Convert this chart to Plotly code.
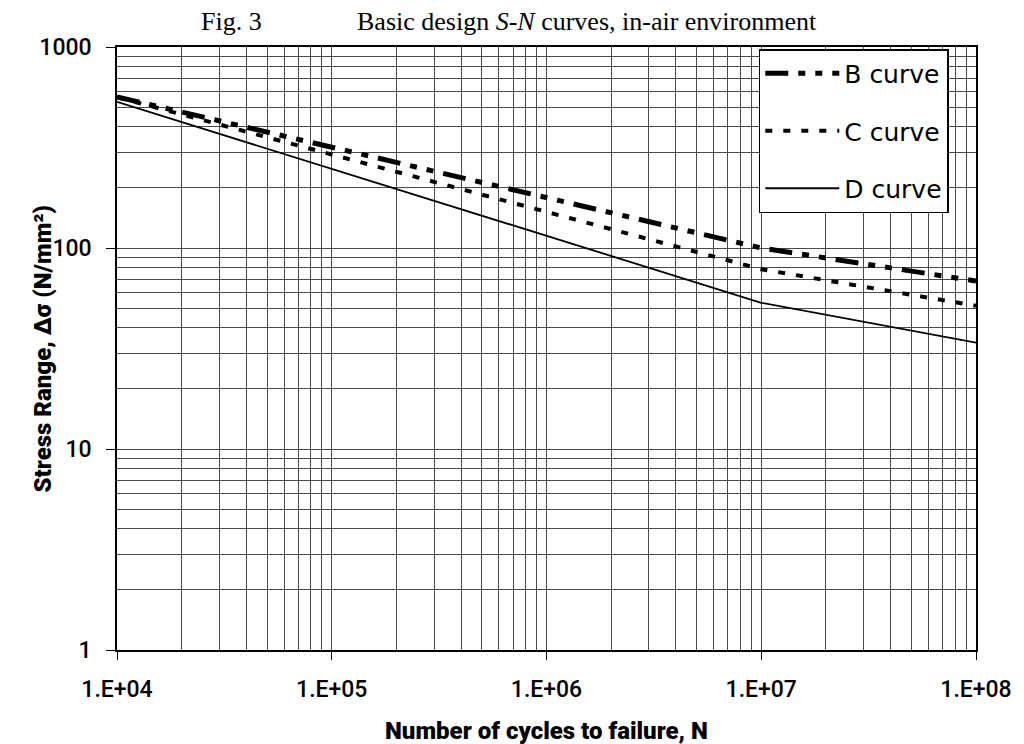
import plotly.graph_objects as go

# Data
cycles = [1e4, 1e7, 1e8]
b_curve = [565, 100, 68.5]
c_curve = [563, 78.4, 51.6]
d_curve = [533, 53.4, 33.8]

x_tickvals = [1e4, 1e5, 1e6, 1e7, 1e8]
x_ticktext = ["1.E+04", "1.E+05", "1.E+06", "1.E+07", "1.E+08"]
y_tickvals = [1, 10, 100, 1000]
y_ticktext = ["1", "10", "100", "1000"]

fig = go.Figure()
fig.add_trace(go.Scatter(x=cycles, y=b_curve, mode="lines", name="B curve", legendgroup="b",
                         line=dict(color="black", width=5, dash="23px,10px,7px,10px,7px,10px")))
fig.add_trace(go.Scatter(x=cycles, y=c_curve, mode="lines", name="C curve", legendgroup="c",
                         line=dict(color="black", width=4, dash="7px,11px")))
fig.add_trace(go.Scatter(x=cycles, y=d_curve, mode="lines", name="D curve", legendgroup="d",
                         line=dict(color="black", width=1.8)))

tick_font = dict(family="Roboto", size=23, color="black", weight=500)
title_font = dict(family="Roboto", size=24, color="black", weight=900)
grid_col = "#4a4a4a"

fig.update_xaxes(type="log", range=[4, 8], tickvals=x_tickvals, ticktext=x_ticktext,
                 showgrid=True, gridcolor=grid_col, gridwidth=1,
                 minor=dict(dtick="D1", showgrid=True, gridcolor=grid_col, gridwidth=1, ticks=""),
                 showline=True, linecolor="black", linewidth=1.5, mirror=True,
                 ticks="outside", ticklen=8, tickcolor="black", tickfont=tick_font,
                 ticklabelstandoff=10,
                 zeroline=False)
fig.update_yaxes(type="log", range=[0, 3], tickvals=y_tickvals, ticktext=y_ticktext,
                 showgrid=True, gridcolor=grid_col, gridwidth=1,
                 minor=dict(dtick="D1", showgrid=True, gridcolor=grid_col, gridwidth=1, ticks=""),
                 showline=True, linecolor="black", linewidth=1.5, mirror=True,
                 ticks="outside", ticklen=9, tickcolor="black", tickfont=tick_font,
                 ticklabelstandoff=10,
                 zeroline=False)

fig.update_layout(
    width=1024, height=744,
    margin=dict(l=117, r=37, t=47, b=94),
    paper_bgcolor="white", plot_bgcolor="white",
    legend=dict(x=(767 - 117) / 870, y=1 - 2 / 603, xanchor="left", yanchor="top",
                bgcolor="white", bordercolor="black", borderwidth=1.5,
                font=dict(family="DejaVu Sans", size=25, color="black"),
                traceorder="grouped", tracegroupgap=22, itemwidth=74),
    showlegend=True,
)

# axis titles
fig.add_annotation(text="Number of cycles to failure, N", xref="paper", yref="paper",
                   x=0.5, y=0, yshift=-(731 - 650), xanchor="center", yanchor="middle",
                   showarrow=False, font=title_font)
fig.add_annotation(text="Stress Range, Δσ (N/mm²)", xref="paper", yref="paper",
                   x=(42 - 117) / 870, y=0.5, xanchor="center", yanchor="middle", textangle=-90,
                   showarrow=False, font=title_font)

# chart title
fig.add_annotation(text="Fig. 3", xref="paper", yref="paper", x=(200 - 117) / 870, y=1,
                   yshift=26, xanchor="left", yanchor="middle", showarrow=False,
                   font=dict(family="Liberation Serif", size=26, color="black"))
fig.add_annotation(text="Basic design <i>S-N</i> curves, in-air environment", xref="paper", yref="paper",
                   x=(828 - 117) / 870, y=1, yshift=26, xanchor="right", yanchor="middle", showarrow=False,
                   font=dict(family="Liberation Serif", size=26, color="black"))

fig.write_html("out.html", config={"displayModeBar": False},
               post_script="document.body.style.margin='0';document.body.style.overflow='hidden';")
